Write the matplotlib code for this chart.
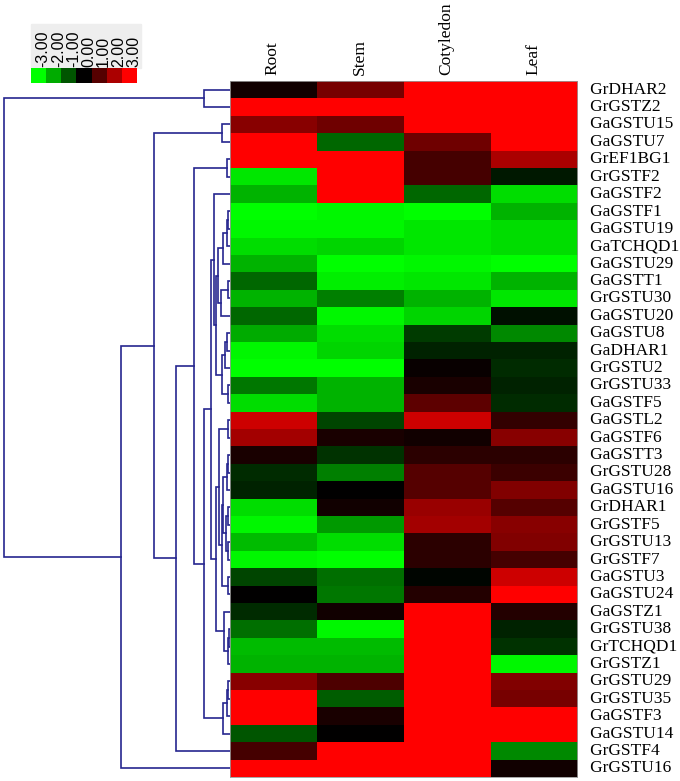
import numpy as np
import matplotlib
matplotlib.use("Agg")
import matplotlib.pyplot as plt
from matplotlib.colors import LinearSegmentedColormap
from matplotlib.patches import Rectangle

genes = ["GrDHAR2", "GrGSTZ2", "GaGSTU15", "GaGSTU7", "GrEF1BG1", "GrGSTF2",
         "GaGSTF2", "GaGSTF1", "GaGSTU19", "GaTCHQD1", "GaGSTU29", "GaGSTT1",
         "GrGSTU30", "GaGSTU20", "GaGSTU8", "GaDHAR1", "GrGSTU2", "GrGSTU33",
         "GaGSTF5", "GaGSTL2", "GaGSTF6", "GaGSTT3", "GrGSTU28", "GaGSTU16",
         "GrDHAR1", "GrGSTF5", "GrGSTU13", "GrGSTF7", "GaGSTU3", "GaGSTU24",
         "GaGSTZ1", "GrGSTU38", "GrTCHQD1", "GrGSTZ1", "GrGSTU29", "GrGSTU35",
         "GaGSTF3", "GaGSTU14", "GrGSTF4", "GrGSTU16"]
tissues = ["Root", "Stem", "Cotyledon", "Leaf"]

root_vals = [0.2, 3, 1.6, 3, 3, -2.7, -2.1, -3, -2.9, -2.6, -2.1, -1.2, -2.1, -1.2,
             -2.0, -2.9, -3, -1.4, -2.6, 2.4, 1.9, 0.3, -0.5, -0.4, -2.6, -2.9,
             -2.2, -2.9, -0.8, 0.0, -0.5, -1.3, -2.2, -2.1, 1.6, 3, 3, -1.0, 0.8, 3]
stem_vals = [1.4, 3, 1.3, -1.2, 3, 3, 3, -2.9, -2.9, -2.5, -3, -2.8, -1.5, -2.9,
             -2.6, -2.5, -3, -2.1, -2.1, -0.8, 0.3, -0.6, -1.5, 0.0, 0.2, -1.8,
             -2.6, -3, -1.3, -1.4, 0.2, -2.9, -2.2, -2.1, 0.9, -1.1, 0.3, 0.0, 3, 3]
cotyledon_vals = [3, 3, 3, 1.3, 0.8, 0.8, -1.2, -3, -2.7, -2.7, -2.9, -2.7, -2.1,
                  -2.5, -0.7, -0.4, 0.1, 0.3, 1.1, 2.4, 0.2, 0.5, 1.0, 1.0, 1.8,
                  1.9, 0.5, 0.5, -0.05, 0.4, 3, 3, 3, 3, 3, 3, 3, 3, 3, 3]
leaf_vals = [3, 3, 3, 3, 2.0, -0.3, -2.6, -2.1, -2.6, -2.6, -3, -2.1, -2.7, -0.2,
             -1.6, -0.4, -0.5, -0.4, -0.5, 0.6, 1.6, 0.5, 0.7, 1.5, 1.0, 1.6, 1.5,
             0.8, 2.4, 3, 0.4, -0.4, -0.6, -2.9, 1.5, 1.4, 3, 3, -1.6, 0.2]

# dendrogram merges: (left, right, height); leaves 0..39, internal nodes 40..
merges = [
    (0, 1, 26), (2, 3, 8), (4, 5, 3), (7, 8, 1.5), (43, 9, 3), (44, 10, 7),
    (11, 12, 1.5), (46, 13, 9), (45, 47, 12), (14, 15, 3), (49, 16, 5),
    (17, 18, 2), (50, 51, 8), (48, 52, 14), (6, 53, 16), (19, 20, 1.5),
    (21, 22, 1.5), (56, 23, 3), (24, 25, 1.5), (26, 27, 1.5), (58, 59, 4),
    (57, 60, 7), (28, 29, 1.5), (61, 62, 8), (55, 63, 11), (31, 32, 1),
    (65, 33, 2), (30, 66, 6), (64, 67, 14), (54, 68, 19), (34, 35, 1.5),
    (70, 36, 3), (71, 37, 7), (69, 72, 26), (42, 73, 36), (74, 38, 54),
    (41, 75, 76), (76, 39, 109), (40, 77, 225),
]

legend_vals = [-3, -2, -1, 0, 1, 2, 3]
legend_labels = ["-3.00", "-2.00", "-1.00", "0.00", "1.00", "2.00", "3.00"]

W, H = 680, 781
fig = plt.figure(figsize=(W / 100, H / 100), dpi=100)


def px_axes(x0, y0, x1, y1):
    return fig.add_axes([x0 / W, 1 - y1 / H, (x1 - x0) / W, (y1 - y0) / H])


cmap = LinearSegmentedColormap.from_list("gbr", ["#00ff00", "#000000", "#ff0000"])

# heatmap
data = np.array([root_vals, stem_vals, cotyledon_vals, leaf_vals]).T
ax = px_axes(229.5, 81, 577, 777)
ax.imshow(data, cmap=cmap, vmin=-3, vmax=3, aspect="auto", interpolation="nearest")
ax.set_xlim(-0.5, 3.5)
ax.set_ylim(len(genes) - 0.5, -0.5)
ax.set_xticks([])
ax.set_yticks([])
for s in ax.spines.values():
    s.set_color("#999999")
    s.set_linewidth(0.6)
for i, g in enumerate(genes):
    ax.text(3.5, i, "   " + g, ha="left", va="center", fontsize=12.5,
            family="Liberation Serif", clip_on=False)
for j, t in enumerate(tissues):
    ax.text(j, -0.85, t, rotation=90, ha="center", va="bottom", fontsize=12.5,
            family="Liberation Serif", clip_on=False)

# dendrogram
dax = px_axes(0, 81, 229.5, 777)
dax.set_xlim(229.5, 0)
dax.set_ylim(len(genes) - 0.5, -0.5)
dax.axis("off")
pos = {i: (float(i), 0.0) for i in range(len(genes))}
line_col = "#26268f"
for k, (a, b, h) in enumerate(merges):
    ya, ha_ = pos[a]
    yb, hb = pos[b]
    dax.plot([ha_, h, h, hb], [ya, ya, yb, yb], color=line_col, lw=1.2,
             solid_joinstyle="miter")
    pos[len(genes) + k] = ((ya + yb) / 2, h)

# colour legend
fig.patches.append(Rectangle((31 / W, 1 - 68 / H), 110 / W, 44 / H,
                             transform=fig.transFigure, color="#eeeeee", zorder=-5))
lax = px_axes(31, 68, 137, 83)
lax.imshow(np.array([legend_vals]), cmap=cmap, vmin=-3, vmax=3, aspect="auto")
lax.axis("off")
for i, lab in enumerate(legend_labels):
    lax.text(i + 0.3, -0.58, lab, rotation=90, ha="center", va="bottom",
             fontsize=11.5, family="Liberation Sans", clip_on=False, zorder=5)

fig.savefig("out.png", dpi=100)
